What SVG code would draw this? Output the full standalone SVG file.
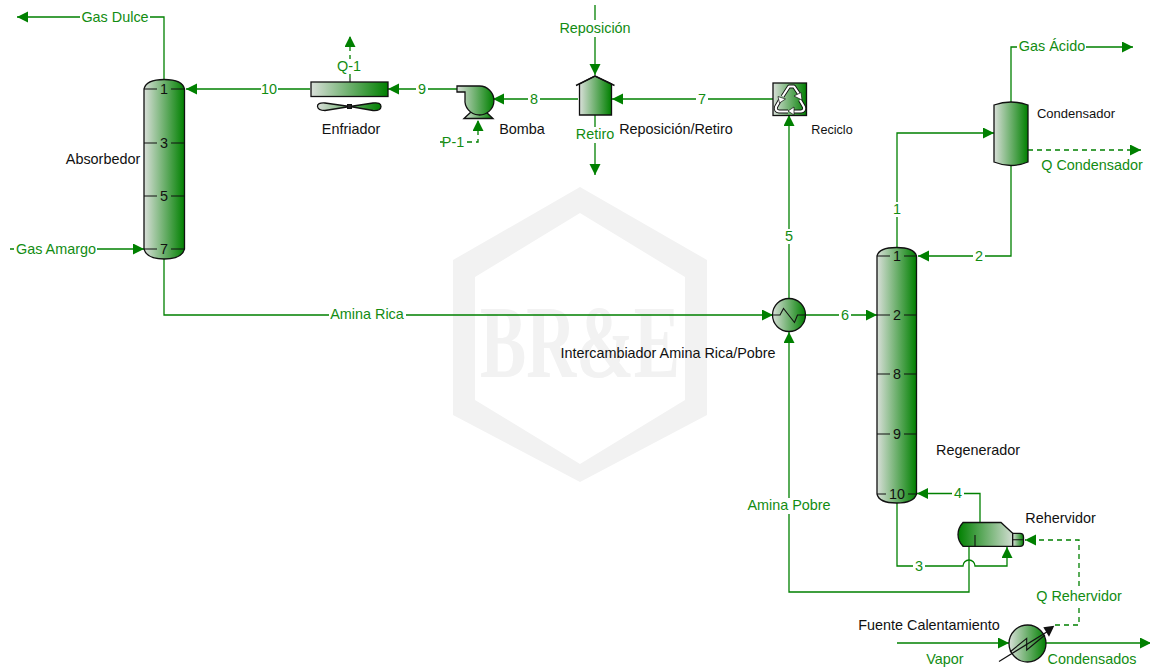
<svg xmlns="http://www.w3.org/2000/svg" width="1150" height="670" viewBox="0 0 1150 670">
<style>
text{font-family:"Liberation Sans",Arial,sans-serif;font-size:14.4px;text-anchor:middle}
.lb{fill:#128c12}
.nm{fill:#111}
.sm{font-size:12.6px}
.c{fill:none;stroke:#008000;stroke-width:1.3}
.a{marker-end:url(#ah)}
.d{stroke-dasharray:5 4}
.o{stroke:#111;stroke-width:1.3}
.t{stroke:#111;stroke-width:1.1;fill:none}
.g{fill:url(#lr)}
.k{fill:#fff}
</style>
<defs>
<linearGradient id="lr" x1="0" y1="0" x2="1" y2="0"><stop offset="0" stop-color="#d9dfd9"/><stop offset="1" stop-color="#008000"/></linearGradient>
<linearGradient id="rl" x1="0" y1="0" x2="1" y2="0"><stop offset="0" stop-color="#008000"/><stop offset="1" stop-color="#d0dcd0"/></linearGradient>
<marker id="ah" markerUnits="userSpaceOnUse" markerWidth="12" markerHeight="12" refX="11" refY="5.5" orient="auto"><path d="M0,0L11,5.5L0,11z" fill="#008000"/></marker>
</defs>
<g id="watermark">
<path fill-rule="evenodd" fill="#f2f2f2" d="M580,187L707,260V415L580,482L453,415V260ZM580,213L475,277V400L580,464L685,400V277Z"/>
<text x="580" y="377" fill="#f2f2f2" style="font-family:'Liberation Serif',serif;font-size:104px;font-weight:bold" textLength="200" lengthAdjust="spacingAndGlyphs">BR&amp;E</text>
</g>
<g id="connectors">
<path class="c a" d="M164,80V17H17"/>
<path class="c a" d="M310,89H186"/>
<path class="c a" d="M457,89H388"/>
<path class="c a" d="M578,99H493"/>
<path class="c a" d="M773,99H612"/>
<path class="c a" d="M595,5V75"/>
<path class="c a" d="M595,115V175"/>
<path class="c a d" d="M350,78V36"/>
<path class="c a d" d="M440,142H478V120"/>
<path class="c a" d="M10,249H144"/>
<path class="c a" d="M164,259V315H773"/>
<path class="c a" d="M806,315H877"/>
<path class="c a" d="M789,298V115"/>
<path class="c a" d="M969,547V592H789V332"/>
<path class="c a" d="M897,248V133H994"/>
<path class="c a" d="M1011,166V256H918"/>
<path class="c a" d="M1011,102V47H1133"/>
<path class="c a d" d="M1028,150H1141"/>
<path class="c a" d="M980,522V493.500H917"/>
<path class="c a" d="M897,503V566H963A6,6 0 0 1 975,566H1007V547"/>
<path class="c a d" d="M1055,625H1079V540H1025"/>
<path class="c a" d="M897,643H1009"/>
<path class="c a" d="M1046,643H1151"/>
<g id="label-gaps">
<rect class="k" x="80" y="10" width="70" height="15"/>
<rect class="k" x="261" y="82" width="17" height="15"/>
<rect class="k" x="416" y="82" width="12" height="15"/>
<rect class="k" x="528" y="92" width="12" height="15"/>
<rect class="k" x="696" y="92" width="12" height="15"/>
<rect class="k" x="557" y="20" width="76" height="17"/>
<rect class="k" x="574" y="127" width="42" height="16"/>
<rect class="k" x="336" y="59" width="27" height="15"/>
<rect class="k" x="443" y="135" width="21" height="15"/>
<rect class="k" x="14" y="242" width="83" height="15"/>
<rect class="k" x="329" y="308" width="77" height="15"/>
<rect class="k" x="839" y="308" width="12" height="15"/>
<rect class="k" x="783" y="229" width="12" height="15"/>
<rect class="k" x="891" y="202" width="12" height="15"/>
<rect class="k" x="973" y="249" width="12" height="15"/>
<rect class="k" x="952" y="486" width="12" height="15"/>
<rect class="k" x="913" y="559" width="12" height="15"/>
<rect class="k" x="746" y="498" width="86" height="16"/>
<rect class="k" x="1017" y="40" width="69" height="15"/>
<rect class="k" x="1035" y="589" width="88" height="16"/>
</g>
<text class="lb" x="115" y="22">Gas Dulce</text>
<text class="lb" x="269" y="94">10</text>
<text class="lb" x="422" y="94">9</text>
<text class="lb" x="534" y="104">8</text>
<text class="lb" x="702" y="104">7</text>
<text class="lb" x="595" y="33">Reposición</text>
<text class="lb" x="595" y="139">Retiro</text>
<text class="lb" x="349" y="71">Q-1</text>
<text class="lb" x="453" y="147">P-1</text>
<text class="lb" x="56" y="254">Gas Amargo</text>
<text class="lb" x="367" y="319">Amina Rica</text>
<text class="lb" x="845" y="320">6</text>
<text class="lb" x="789" y="241">5</text>
<text class="lb" x="897" y="214">1</text>
<text class="lb" x="979" y="261">2</text>
<text class="lb" x="958" y="498">4</text>
<text class="lb" x="919" y="571">3</text>
<text class="lb" x="789" y="510">Amina Pobre</text>
<text class="lb" x="1052" y="51">Gas Ácido</text>
<text class="lb" x="1092" y="170">Q Condensador</text>
<text class="lb" x="1079" y="601">Q Rehervidor</text>
<text class="lb" x="945" y="664">Vapor</text>
<text class="lb" x="1092" y="664">Condensados</text>
</g>
<g id="absorbedor">
<path class="g o" d="M144,89Q146,79.500 164.250,79.500T184.500,89V249Q182,259 164.250,259T144,249Z"/>
<path class="t" d="M144,89H157M171,89H184.500M144,143H157M171,143H184.500M144,196H157M171,196H184.500M144,249H157M171,249H184.500"/>
<text class="nm" x="164" y="94">1</text><text class="nm" x="164" y="148">3</text><text class="nm" x="164" y="201">5</text><text class="nm" x="164" y="254">7</text>
<text class="nm" x="103" y="164">Absorbedor</text>
</g>
<g id="enfriador">
<path class="t" d="M350,78V82"/>
<rect class="g o" x="311" y="82" width="77" height="14.500"/>
<path class="g o" d="M350,106.500L325,103Q317,102.500 317.500,106.500T325,110.500L350,106.500L373,103Q381,102 381,106.500T373,110.500Z"/>
<rect x="347.500" y="104.500" width="4" height="4" fill="#222" stroke="#111"/>
<text class="nm" x="351" y="134">Enfriador</text>
</g>
<g id="bomba">
<path class="g o" d="M464,118.500L471,112H486L493,118.500Z"/>
<path class="g o" d="M457,86H479A14.500,14.500 0 1 1 465,99V92H457Z"/>
<text class="nm" x="522" y="134">Bomba</text>
</g>
<g id="reposicion-retiro">
<path class="g" stroke="#111" stroke-width="1.300" d="M579.500,84L595,76L611.500,84V115H579.500Z"/>
<path fill="none" stroke="#111" stroke-width="1.400" d="M576,85.500L595,76L614.500,85.500"/>
<text class="nm" x="676" y="134">Reposición/Retiro</text>
</g>
<g id="reciclo">
<rect class="g o" x="773" y="83" width="33.500" height="32.500"/>
<g fill="none" stroke-linejoin="round">
<path stroke="#111" stroke-width="4" d="M782.500,96.500L789,86.500H794L799,94M800,100L804,107Q805,111 801,111.500H793M788,111.500H779Q775,111 776,107L780,100"/>
<path stroke="#fff" stroke-width="2.200" d="M782.500,96.500L789,86.500H794L799,94M800,100L804,107Q805,111 801,111.500H793M788,111.500H779Q775,111 776,107L780,100"/>
</g>
<path fill="#fff" stroke="#111" stroke-width=".7" d="M794,96L801,92.500L802,100ZM794,107V115L788,111ZM778,96.500L785.500,99L779.500,103Z"/>
<text class="nm sm" x="832" y="134">Reciclo</text>
</g>
<g id="condensador">
<path class="g o" d="M994,105Q1011,99 1028,105V162Q1011,169 994,162Z"/>
<text class="nm sm" x="1076" y="118" style="font-size:13px">Condensador</text>
</g>
<g id="intercambiador">
<circle class="g o" cx="789" cy="315" r="16.500"/>
<path class="t" d="M773,315H780L783.500,308.500L794.500,322.500L797.500,315H806"/>
<text class="nm" x="668" y="358">Intercambiador Amina Rica/Pobre</text>
</g>
<g id="regenerador">
<path class="g o" d="M877,256Q879,247.500 896.500,247.500T916.500,256V494Q914,503 896.500,503T877,494Z"/>
<path class="t" d="M877,256H890M904,256H916.500M877,315H890M904,315H916.500M877,374H890M904,374H916.500M877,434H890M904,434H916.500M877,494H886M908,494H916.500"/>
<text class="nm" x="897" y="261">1</text><text class="nm" x="897" y="320">2</text><text class="nm" x="897" y="379">8</text><text class="nm" x="897" y="439">9</text><text class="nm" x="897" y="499">10</text>
<text class="nm" x="978" y="455">Regenerador</text>
</g>
<g id="rehervidor">
<path fill="url(#rl)" stroke="#111" stroke-width="1.300" d="M963,522.500H1001L1012.700,533.300V546.300H963Q958,541 958,534.500T963,522.500Z"/>
<path class="g o" d="M1012.700,533.300H1020Q1023.500,533.300 1023.500,537V543Q1023.500,546.300 1020,546.300H1012.700Z"/>
<path class="t" d="M1012.700,539.800H1023.500M975,535V546.300"/>
<text class="nm" x="1060.500" y="523">Rehervidor</text>
</g>
<g id="fuente-calentamiento">
<circle class="g o" cx="1027.500" cy="643.500" r="18.500"/>
<path class="t" d="M1010,652L1026.700,638.300V650L1045,635"/>
<path stroke="#111" stroke-width="1.200" d="M999,661.500L1050,630"/>
<path fill="#111" d="M1054.300,625.700L1049,636.700L1043.300,627.300Z"/>
<text class="nm" x="929" y="630">Fuente Calentamiento</text>
</g>
</svg>
